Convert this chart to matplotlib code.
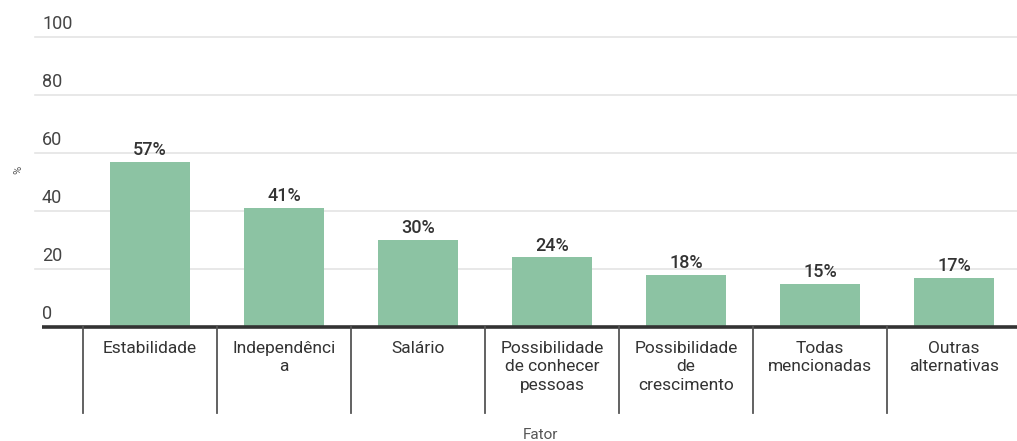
import matplotlib
matplotlib.use("Agg")
import matplotlib.pyplot as plt
from matplotlib.transforms import blended_transform_factory, offset_copy

plt.rcParams['font.family'] = ['Roboto', 'DejaVu Sans']

categories = ["Estabilidade", "Independênci\na", "Salário",
              "Possibilidade\nde conhecer\npessoas", "Possibilidade\nde\ncrescimento",
              "Todas\nmencionadas", "Outras\nalternativas"]
values = [57, 41, 30, 24, 18, 15, 17]
yticks = [0, 20, 40, 60, 80, 100]

W, H = 1017, 441
fig = plt.figure(figsize=(W / 100, H / 100), dpi=100)
# axes spans from x=42px to right edge, y from baseline to the 100 line
ax = fig.add_axes([42 / W, (H - 327) / H, (W - 42) / W, (327 - 37) / H])
ax.set_xlim(-0.806, 6.47)
ax.set_ylim(0, 100)
for s in ax.spines.values():
    s.set_visible(False)
ax.set_xticks([])
ax.set_yticks([])

bar_color = "#8cc3a3"
x = list(range(len(values)))
ax.bar(x, values, width=0.6, color=bar_color, zorder=2)

# gridlines and tick labels
trans_y = blended_transform_factory(ax.transAxes, ax.transData)
for t in yticks[1:]:
    ax.plot([-0.007, 1], [t, t], transform=trans_y, color="#e4e4e4", lw=1.2,
            zorder=1, clip_on=False)
for t in yticks:
    tt = offset_copy(trans_y, fig=fig, x=0, y=4, units='dots')
    ax.text(0.0, t, str(t), transform=tt, ha='left', va='bottom',
            fontsize=13, color="#444444")

# value labels
for xi, v in zip(x, values):
    ax.annotate(f"{v}%", (xi, v), xytext=(0, 2), textcoords='offset points',
                ha='center', va='bottom', fontsize=13, color="#333333",
                fontweight='medium')

# baseline
ax.plot([0, 1], [0, 0], transform=trans_y, color="#333333", lw=2.6,
        zorder=3, clip_on=False, solid_capstyle='butt')

# category separators and labels below the axis
trans_x = blended_transform_factory(ax.transData, fig.transFigure)
sep_top = (H - 327) / H
sep_bot = (H - 413) / H
for i in range(len(values) + 1):
    ax.plot([i - 0.5, i - 0.5], [sep_top, sep_bot], transform=trans_x,
            color="#555555", lw=1.3, clip_on=False, zorder=3)
for xi, lab in zip(x, categories):
    ax.text(xi, (H - 341) / H, lab, transform=trans_x, ha='center', va='top',
            fontsize=12.5, color="#333333", linespacing=1.28)

fig.text(540 / W, (H - 435) / H, "Fator", ha='center', va='center',
         fontsize=11, color="#555555")
fig.text(18 / W, (H - 170) / H, "%", ha='center', va='center', rotation=90,
         fontsize=8, color="#555555")

fig.savefig("out.png", dpi=100, facecolor="white")
